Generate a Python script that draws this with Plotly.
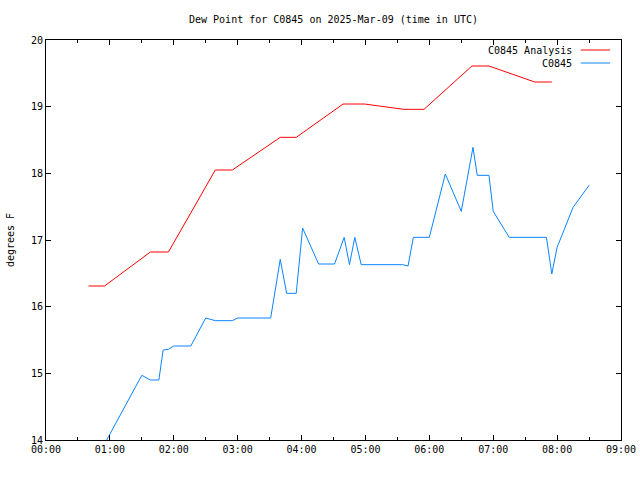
import plotly.graph_objects as go

DAY = "2025-03-09 "

analysis_times = ["00:40", "00:55", "01:38", "01:55", "02:39", "02:55", "03:40", "03:55",
                  "04:39", "04:59", "05:36", "05:55", "06:40", "06:56", "07:39", "07:55"]
analysis_vals = [16.31, 16.31, 16.82, 16.82, 18.05, 18.05, 18.54, 18.54,
                 19.04, 19.04, 18.96, 18.96, 19.61, 19.61, 19.37, 19.37]

obs_times = ["00:57", "01:30", "01:38", "01:46", "01:50", "01:55", "02:00", "02:16",
             "02:30", "02:39", "02:55", "03:00", "03:31", "03:40", "03:46", "03:55",
             "04:01", "04:16", "04:31", "04:40", "04:45", "04:50", "04:56", "05:35",
             "05:40", "05:45", "06:00", "06:15", "06:30", "06:41", "06:45", "06:56",
             "07:00", "07:15", "07:50", "07:55", "08:00", "08:15", "08:30"]
obs_vals = [14.00, 14.97, 14.90, 14.90, 15.35, 15.36, 15.41, 15.41,
            15.83, 15.79, 15.79, 15.83, 15.83, 16.71, 16.20, 16.20,
            17.18, 16.64, 16.64, 17.04, 16.63, 17.04, 16.63, 16.63,
            16.61, 17.04, 17.04, 17.99, 17.43, 18.39, 17.97, 17.97,
            17.43, 17.04, 17.04, 16.49, 16.89, 17.49, 17.82]

x_ticks = ["00:00", "01:00", "02:00", "03:00", "04:00", "05:00", "06:00", "07:00", "08:00", "09:00"]
y_ticks = [14, 15, 16, 17, 18, 19, 20]

legend_names = ["C0845 Analysis", "C0845"]
RED = "#ff0000"
BLUE = "#0a84ff"
FONT = "DejaVu Sans Mono"

fig = go.Figure()
fig.add_trace(go.Scatter(x=[DAY + t for t in analysis_times], y=analysis_vals, mode="lines",
                         line=dict(color=RED, width=1), name=legend_names[0], showlegend=False))
fig.add_trace(go.Scatter(x=[DAY + t for t in obs_times], y=obs_vals, mode="lines",
                         line=dict(color=BLUE, width=1), name=legend_names[1], showlegend=False))

# gnuplot-style legend: text on the left, line sample on the right
for i, (name, col) in enumerate(zip(legend_names, [RED, BLUE])):
    yp = 0.975 - i * 0.0325
    fig.add_annotation(x=0.919, y=yp, xref="paper", yref="paper", text=name, showarrow=False,
                       xanchor="right", yanchor="middle", font=dict(family=FONT, size=10, color="black"))
    fig.add_shape(type="line", xref="paper", yref="paper", x0=0.930, x1=0.981, y0=yp, y1=yp,
                  line=dict(color=col, width=1))

fig.update_layout(
    width=640, height=480,
    margin=dict(l=46, r=19, t=40, b=40),
    paper_bgcolor="white", plot_bgcolor="white",
    font=dict(family=FONT, size=10, color="black"),
    title=dict(text="Dew Point for C0845 on 2025-Mar-09 (time in UTC)", x=(46 + 575 / 2) / 640,
               xanchor="center", y=1 - 19 / 480, yanchor="middle", font=dict(family=FONT, size=10)),
)
fig.update_xaxes(
    type="date", range=[DAY + "00:00", DAY + "09:00"], automargin=False,
    tickvals=[DAY + t for t in x_ticks], ticktext=x_ticks,
    showgrid=False, zeroline=False, showline=True, linecolor="black", linewidth=1,
    mirror="allticks", ticks="inside", ticklen=5, tickcolor="black",
    minor=dict(ticks="inside", ticklen=3, dtick=1800000, tickcolor="black", showgrid=False),
    tickfont=dict(family=FONT, size=10),
)
fig.update_yaxes(
    range=[14, 20], tickvals=y_ticks, ticktext=[str(v) for v in y_ticks], automargin=False,
    showgrid=False, zeroline=False, showline=True, linecolor="black", linewidth=1,
    mirror="allticks", ticks="inside", ticklen=5, tickcolor="black",
    title=dict(text="degrees F", font=dict(family=FONT, size=10), standoff=14),
    tickfont=dict(family=FONT, size=10),
)

fig.write_html("out.html")
